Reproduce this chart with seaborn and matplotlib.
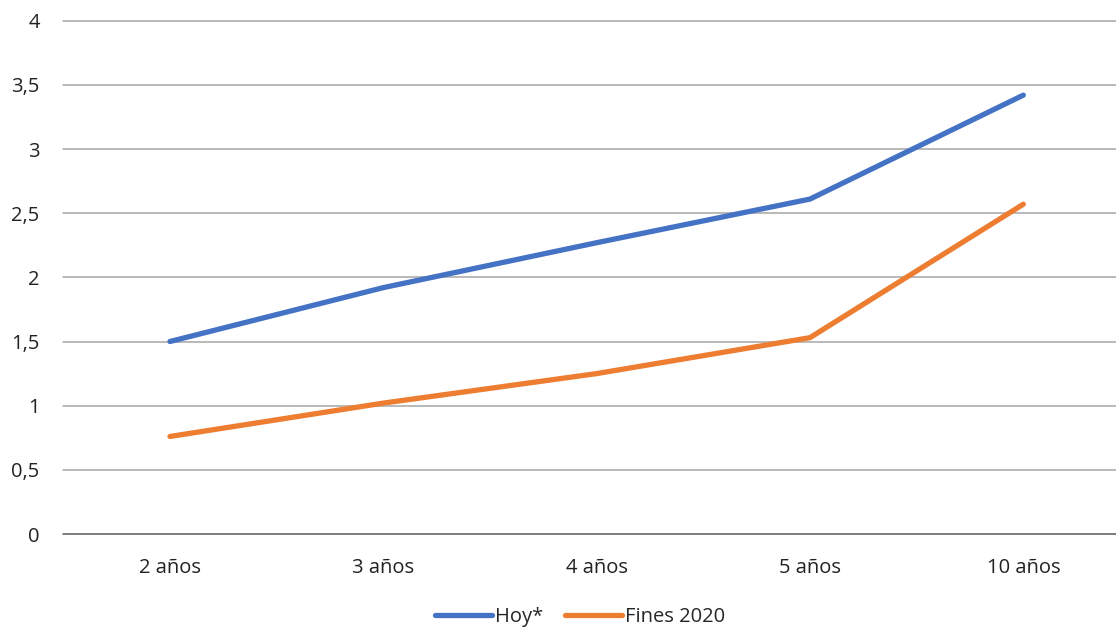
import matplotlib
matplotlib.use("Agg")
import matplotlib.pyplot as plt
from matplotlib.lines import Line2D
import seaborn as sns
import pandas as pd

# Curva de tipos por plazo
plazos = ["2 años", "3 años", "4 años", "5 años", "10 años"]
hoy = [1.50, 1.92, 2.27, 2.61, 3.42]
fines_2020 = [0.76, 1.02, 1.25, 1.53, 2.57]
series = ["Hoy*", "Fines 2020"]
y_ticks = [0, 0.5, 1, 1.5, 2, 2.5, 3, 3.5, 4]
y_labels = ["0", "0,5", "1", "1,5", "2", "2,5", "3", "3,5", "4"]

sns.set_theme(style="white")
plt.rcParams["font.family"] = ["Open Sans", "DejaVu Sans"]

df = pd.DataFrame({
    "plazo": plazos * 2,
    "valor": hoy + fines_2020,
    "serie": [series[0]] * len(plazos) + [series[1]] * len(plazos),
})

fig = plt.figure(figsize=(11.16, 6.31), dpi=100)
W, H = 1116, 631
left, right, top, bottom = 63.3, 1130, 20.7, 534
ax = fig.add_axes([left / W, 1 - bottom / H, (right - left) / W, (bottom - top) / H])

sns.lineplot(data=df, x="plazo", y="valor", hue="serie", sort=False,
             palette=["#4472C4", "#ED7D31"], linewidth=3.8, ax=ax,
             legend=False)
for ln in ax.get_lines():
    ln.set_solid_capstyle("round")

ax.set_xlim(-0.5, 4.5)
ax.set_ylim(0, 4)
ax.set_yticks(y_ticks)
ax.set_yticklabels(y_labels)
ax.set_xlabel("")
ax.set_ylabel("")
for y in y_ticks[1:]:
    ax.axhline(y, color="#A6A6A6", linewidth=1.1, zorder=0, clip_on=False)
ax.axhline(0, color="#595959", linewidth=1.1, zorder=0, clip_on=False)
for s in ax.spines.values():
    s.set_visible(False)
ax.tick_params(axis="y", length=0, pad=17, labelsize=14.5, labelcolor="#222222")
ax.tick_params(axis="x", length=0, pad=17, labelsize=14.5, labelcolor="#222222")

handles = [Line2D([], [], color="#4472C4", linewidth=3.8, solid_capstyle="round"),
           Line2D([], [], color="#ED7D31", linewidth=3.8, solid_capstyle="round")]
fig.legend(handles, series, loc="center", bbox_to_anchor=(580 / W, 1 - 617 / H),
           ncol=2, frameon=False, fontsize=14.5, handlelength=2.8,
           handletextpad=0.15, columnspacing=1.1)

fig.savefig("out.png", dpi=100)
